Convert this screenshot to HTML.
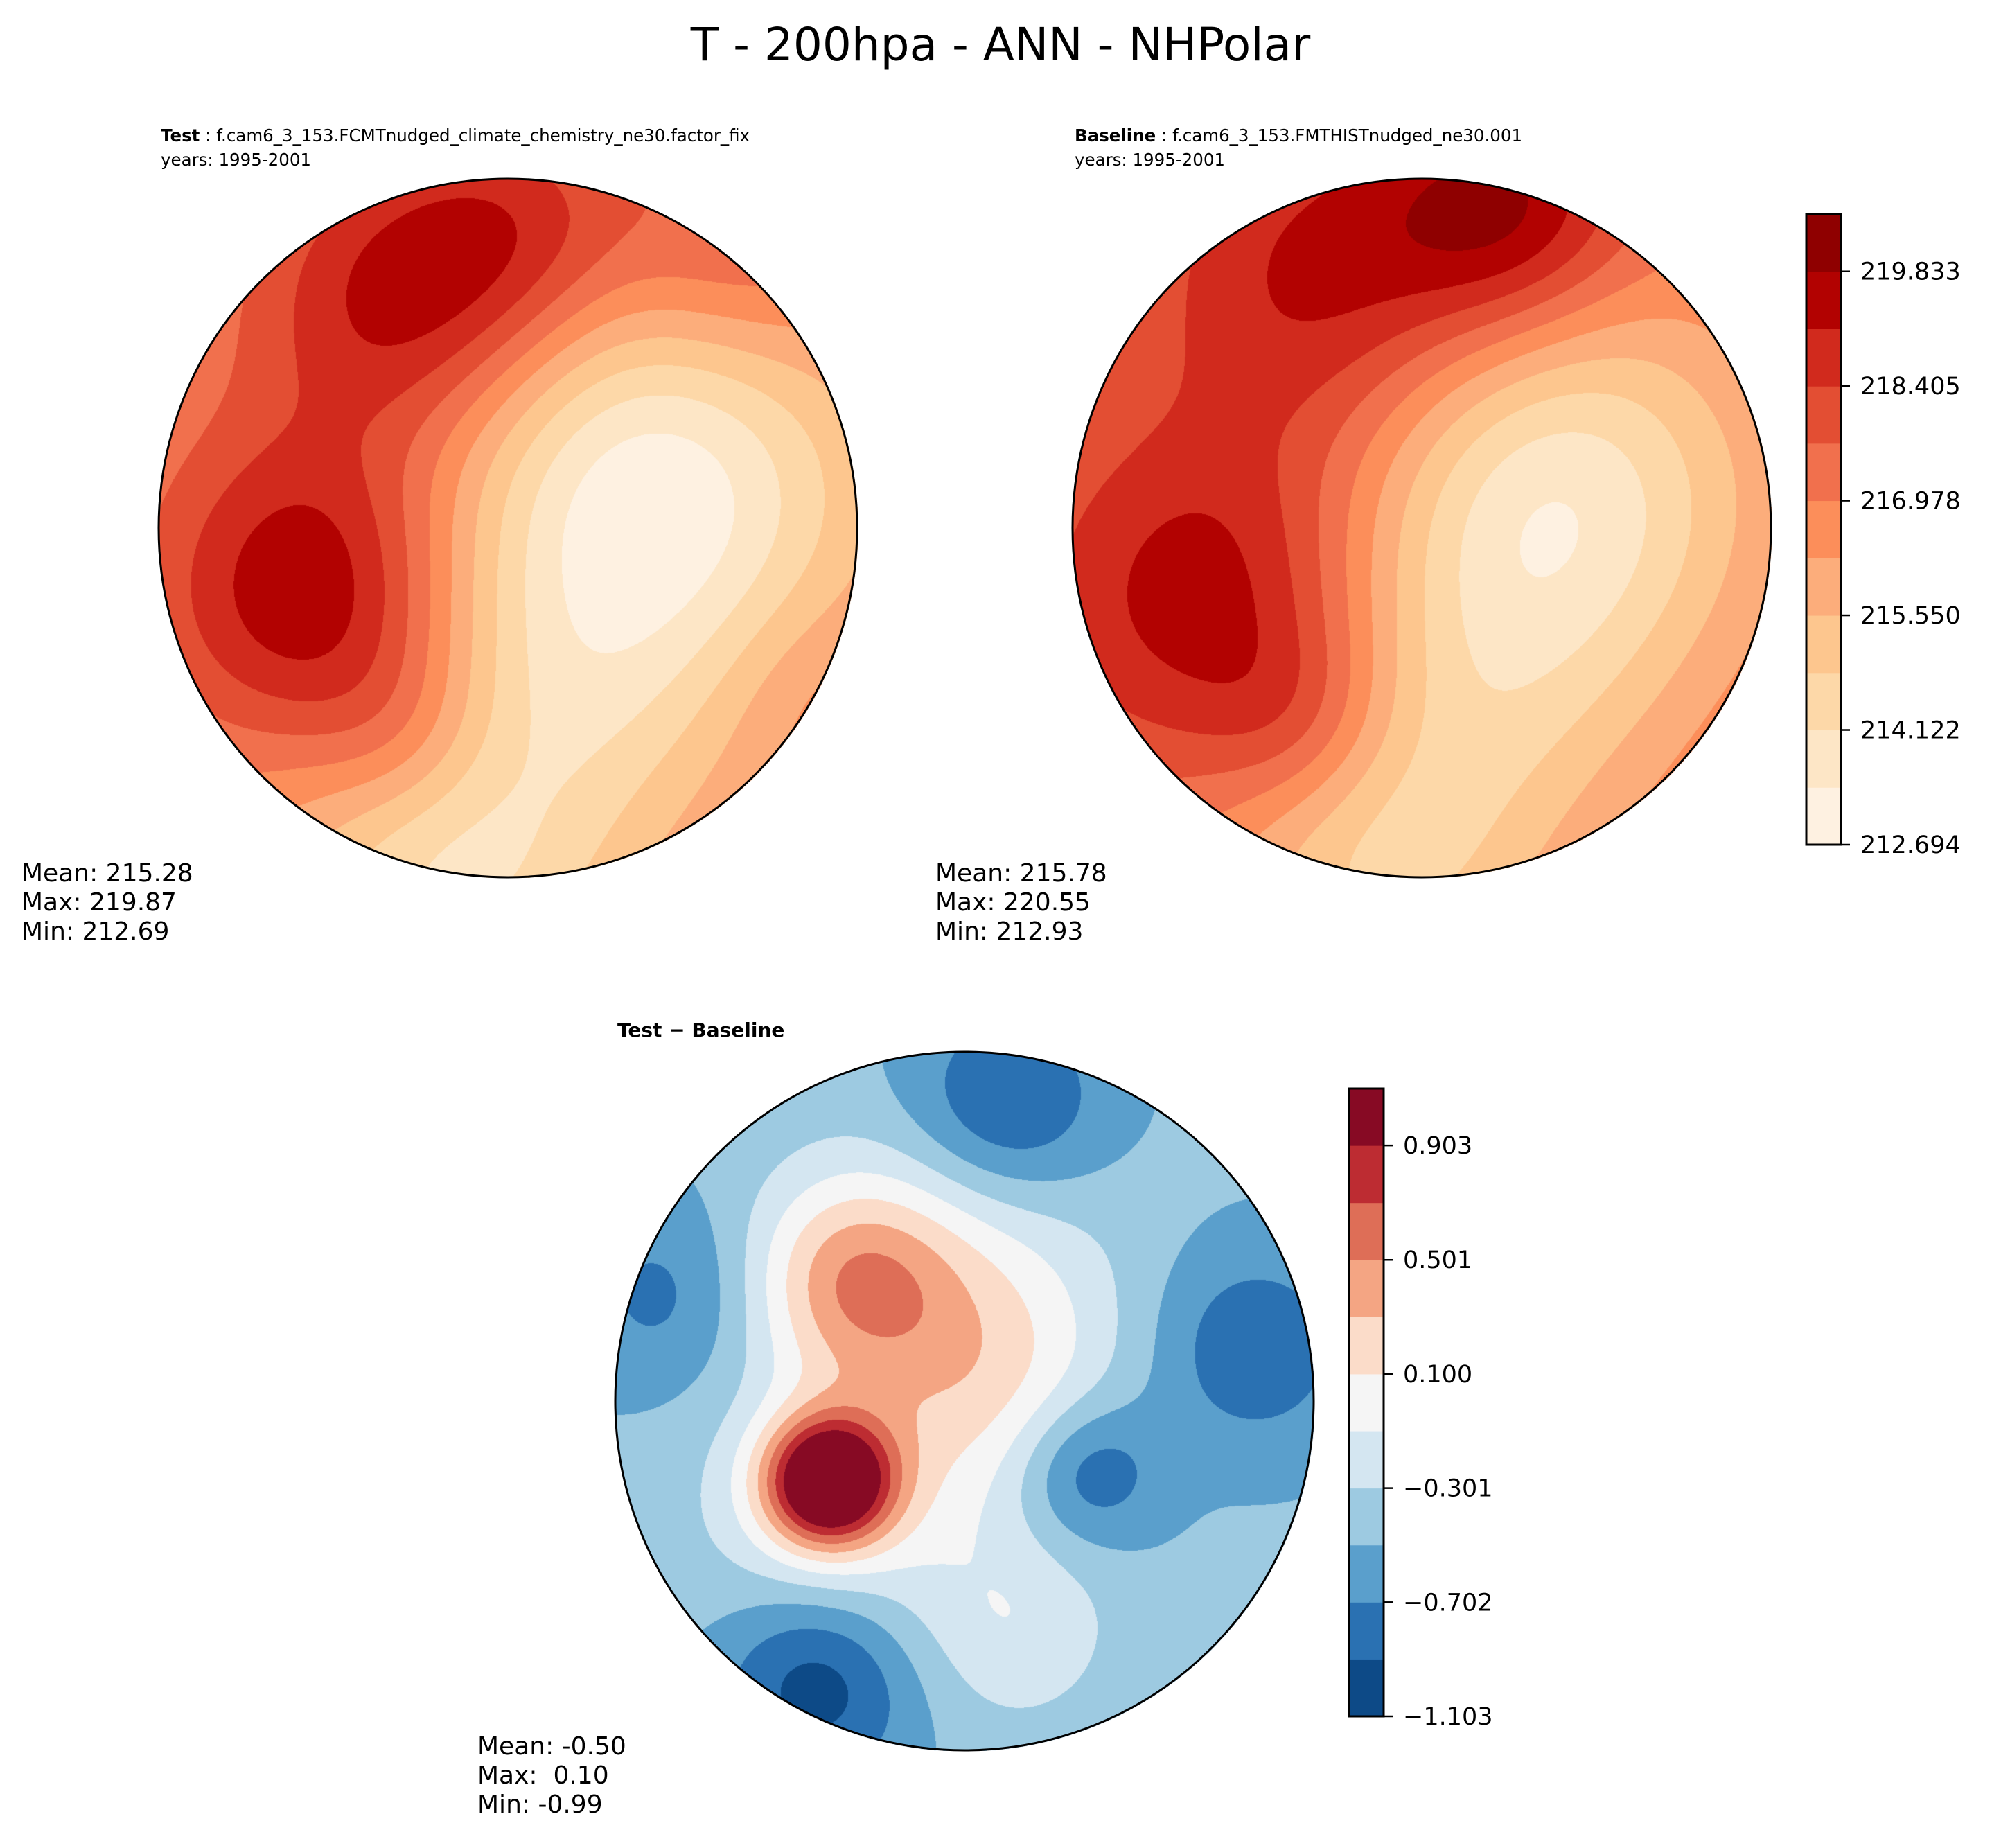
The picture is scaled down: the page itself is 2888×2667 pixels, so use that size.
<!DOCTYPE html>
<html><head><meta charset="utf-8">
<style>
body{margin:0;background:#fff;width:2888px;height:2667px;position:relative;overflow:hidden;font-family:"DejaVu Sans","Liberation Sans",sans-serif;color:#000}
.t{position:absolute;white-space:nowrap}
canvas{position:absolute}
</style></head><body>
<div class="t" style="left:0;width:2888px;text-align:center;top:26px;font-size:66px">T - 200hpa - ANN - NHPolar</div>

<div class="t" style="left:232px;top:178px;font-size:24.5px;line-height:35px"><b>Test</b> : f.cam6_3_153.FCMTnudged_climate_chemistry_ne30.factor_fix<br>years: 1995-2001</div>
<div class="t" style="left:1551px;top:178px;font-size:24.5px;line-height:35px"><b>Baseline</b> : f.cam6_3_153.FMTHISTnudged_ne30.001<br>years: 1995-2001</div>
<div class="t" style="left:891px;top:1470px;font-size:28px;font-weight:bold">Test − Baseline</div>

<div class="t" style="left:31px;top:1240px;font-size:36px;line-height:42px">Mean: 215.28<br>Max: 219.87<br>Min: 212.69</div>
<div class="t" style="left:1350px;top:1240px;font-size:36px;line-height:42px">Mean: 215.78<br>Max: 220.55<br>Min: 212.93</div>
<div class="t" style="left:689px;top:2500px;font-size:36px;line-height:42px;white-space:pre">Mean: -0.50
Max:  0.10
Min: -0.99</div>

<canvas id="c1" width="1010" height="1010" style="left:228px;top:257px"></canvas>
<canvas id="c2" width="1010" height="1010" style="left:1547px;top:257px"></canvas>
<canvas id="c3" width="1010" height="1010" style="left:887px;top:1517px"></canvas>
<svg id="ov" width="2888" height="2667" style="position:absolute;left:0;top:0"></svg>

<script>
const absLevels=[212.694,213.408,214.122,214.836,215.550,216.264,216.978,217.692,218.405,219.119,219.833,220.547];
const absColors=["#fef1e1","#fde6c6","#fdd8a8","#fdc68e","#fcad7b","#fc8e5a","#f1704d","#e34e33","#d12a1d","#b20201","#8f0000"];
const absTicks=["212.694","214.122","215.550","216.978","218.405","219.833"];
const diffLevels=[-1.103,-0.902,-0.702,-0.501,-0.301,-0.100,0.100,0.301,0.501,0.702,0.903,1.103];
const diffColors=["#0d4a87","#2a71b2","#5a9fcc","#9dcae1","#d4e6f1","#f5f5f5","#fbdcc9","#f4a583","#de6e57","#bd2c32","#870a24"];
const diffTicks=["\u22121.103","\u22120.702","\u22120.301","0.100","0.501","0.903"];
// field blobs: [u, v, amplitude, sigma]
const testBase=216.8;
const testBlobs=[[0.42,-0.1,-3.8,0.42],[-0.55,0.25,2.4,0.3],[-0.6,0.0,1.0,0.3],[-0.3,-0.65,2.6,0.3],[0.05,-0.85,1.6,0.25],[-0.2,1.0,-2.6,0.35],[0.15,0.5,-1.5,0.35],[0.65,-0.8,1.4,0.25],[-0.3,0.6,1.2,0.2],[0.85,0.45,0.5,0.2]];
const baseBase=217.3;
const baseBlobs=[[0.38,-0.1,-3.6,0.42],[-0.6,0.2,2.4,0.35],[-0.25,-0.7,2.2,0.35],[0.25,-0.9,2.6,0.25],[-0.15,1.0,-2.2,0.35],[0.15,0.5,-1.6,0.38],[-0.35,0.55,1.3,0.2]];
const diffBase=-0.47;
const diffBlobs=[[-0.39,0.23,1.7,0.13],[-0.33,-0.35,0.65,0.2],[-0.05,-0.3,0.5,0.32],[0.12,-0.84,-0.5,0.2],[-0.42,0.8,-0.6,0.2],[0.35,0.2,-0.5,0.15],[0.82,-0.15,-0.4,0.2],[-0.85,-0.3,-0.3,0.2],[-0.35,0.35,0.35,0.3],[0.15,0.65,0.3,0.2],[0.1,0.0,0.3,0.25]];

function field(base,blobs,u,v){let s=base;for(const b of blobs){const d=((u-b[0])**2+(v-b[1])**2)/(2*b[3]*b[3]);s+=b[2]*Math.exp(-d);}return s;}
function hex(c){return [parseInt(c.substr(1,2),16),parseInt(c.substr(3,2),16),parseInt(c.substr(5,2),16)];}
function draw(id,base,blobs,levels,colors){
  const cv=document.getElementById(id),ctx=cv.getContext('2d'),N=cv.width,R=N/2;
  const img=ctx.createImageData(N,N),rgb=colors.map(hex);
  for(let y=0;y<N;y++)for(let x=0;x<N;x++){
    const u=(x-R)/R,v=(y-R)/R;if(u*u+v*v>1)continue;
    const f=field(base,blobs,u,v);let k=0;
    while(k<colors.length-1&&f>levels[k+1])k++;
    const c=rgb[k],i=(y*N+x)*4;img.data[i]=c[0];img.data[i+1]=c[1];img.data[i+2]=c[2];img.data[i+3]=255;}
  ctx.putImageData(img,0,0);
}
draw('c1',testBase,testBlobs,absLevels,absColors);
draw('c2',baseBase,baseBlobs,absLevels,absColors);
draw('c3',diffBase,diffBlobs,diffLevels,diffColors);

const NS="http://www.w3.org/2000/svg",ov=document.getElementById('ov');
function mk(tag,attrs){const e=document.createElementNS(NS,tag);for(const k in attrs)e.setAttribute(k,attrs[k]);ov.appendChild(e);return e;}
[[733,762],[2052,762],[1392,2022]].forEach(function(c){
  const e=mk('circle',{cx:c[0],cy:c[1],r:504,fill:'none',stroke:'#000','stroke-width':3});
  
  
});
function colorbar(x,y0,y1,levels,colors,ticks,name){
  const n=colors.length,lo=levels[0],hi=levels[n];
  const ys=v=>y1-(v-lo)/(hi-lo)*(y1-y0);
  for(let i=0;i<n;i++){
    const r=mk('rect',{x:x,y:ys(levels[i+1]),width:50,height:ys(levels[i])-ys(levels[i+1])+0.5,fill:colors[i]});
    
    
  }
  const b=mk('rect',{x:x,y:y0,width:50,height:y1-y0,fill:'none',stroke:'#000','stroke-width':3});
  
  
  ticks.forEach(function(t){
    const v=parseFloat(t.replace('\u2212','-')),yy=ys(v);
    const l=mk('line',{x1:x+50,x2:x+63,y1:yy,y2:yy,stroke:'#000','stroke-width':2.5});
    
    
    const tx=mk('text',{x:x+78,y:yy+12,'font-size':35,'font-family':'DejaVu Sans, Liberation Sans, sans-serif'});
    tx.textContent=t;
    
    
  });
}
colorbar(2607,309,1219,absLevels,absColors,absTicks,'abs-colorbar');
colorbar(1947,1571,2477,diffLevels,diffColors,diffTicks,'diff-colorbar');
</script>
</body></html>
